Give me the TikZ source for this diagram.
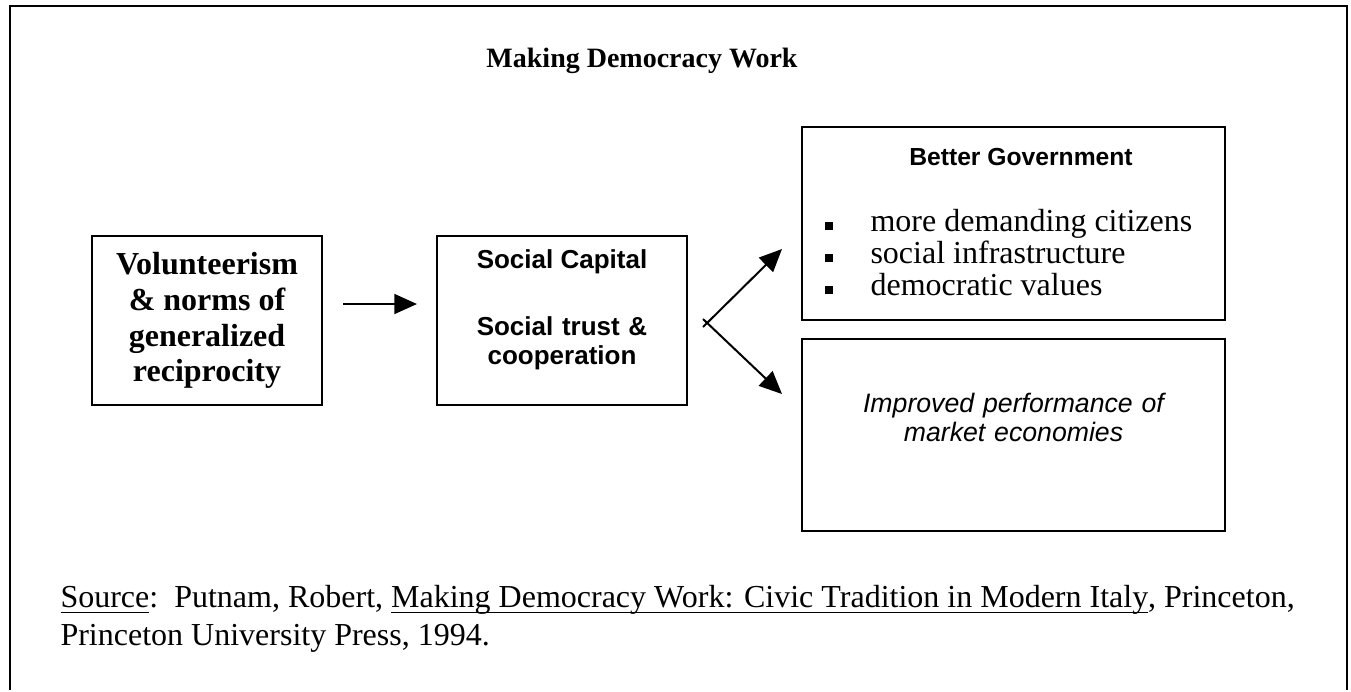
\documentclass[tikz,border=0pt]{standalone}
\usepackage{fontspec}
\setmainfont{Liberation Serif}
\setsansfont{Liberation Sans}
\usetikzlibrary{arrows.meta}

\newlength{\pxu}
\setlength{\pxu}{0.375pt}
\newcommand{\uln}[1]{\underline{\smash{#1}\rule[-0.8pt]{0pt}{0pt}}}

\tikzset{
  box/.style={draw=black, line width=0.8pt, rectangle, inner sep=0pt},
  flow/.style={black, line width=0.75pt, -{Triangle[length=8.5pt,width=7.5pt]}},
  sqbullet/.style={fill=black, rectangle, inner sep=0pt, minimum size=8\pxu},
  titlefont/.style={font={\fontsize{10.5}{12}\selectfont\bfseries}},
  bodyfont/.style={font={\fontsize{12}{13.9}\selectfont}},
  volfont/.style={font={\fontsize{12}{13.4}\selectfont\bfseries}},
  headfont/.style={font={\fontsize{9.75}{10.9}\selectfont\sffamily\bfseries}},
  perffont/.style={font={\fontsize{10}{11}\selectfont\sffamily\itshape}}
}

\begin{document}
\begin{tikzpicture}[x=0.375pt, y=-0.375pt, inner sep=0pt]

\fill[white] (0,0) rectangle (1351,685);
\draw[black, line width=0.75pt] (10,690) -- (10,6) -- (1347,6) -- (1347,690);

 \node (title) at (642,67) [titlefont, anchor=base] {Making Democracy Work};

\node (vol) at (207,320.5) [box, volfont, align=center, minimum width=230\pxu, minimum height=169\pxu]
   {Volunteerism\\\& norms of\\generalized\\reciprocity};

\node (soc) at (562,320.5) [box, minimum width=250\pxu, minimum height=169\pxu] {};
 \node (capital) at (562,268) [headfont, anchor=base] {Social Capital};
 \node (trust) at (562,335) [headfont, anchor=base, align=center, text width=240\pxu] {Social trust \&\\cooperation};

\node (gov) at (1013.5,223.5) [box, minimum width=423\pxu, minimum height=193\pxu] {};
 \node (govhead) at (1021,165) [headfont, font={\fontsize{9.25}{10.9}\selectfont\sffamily\bfseries}, anchor=base] {Better Government};

   \node (b1) at (828.5,226) [sqbullet] {};
   \node (b2) at (828.5,258) [sqbullet] {};
   \node (b3) at (828.5,290) [sqbullet] {};
 \node (citizens) at (870,231) [bodyfont, anchor=base west] {more demanding citizens};
 \node (infra) at (870,263) [bodyfont, anchor=base west] {social infrastructure};
 \node (values) at (870,295) [bodyfont, anchor=base west] {democratic values};

\node (market) at (1013.5,435) [box, minimum width=423\pxu, minimum height=192\pxu] {};
 \node (perf) at (1013.5,412) [perffont, anchor=base, align=center, text width=400\pxu]
   {Improved performance of\\market economies};

\draw[flow, shorten <=20\pxu, shorten >=19\pxu] ([yshift=16.5\pxu]vol.east) -- ([yshift=16.5\pxu]soc.west);

\coordinate (upfrom) at (703,327);
\coordinate (upto) at (782,249);
\coordinate (downfrom) at (703,319);
\coordinate (downto) at (782,394);

\draw[flow] (upfrom) -- (upto);
\draw[flow] (downfrom) -- (downto);

 \node (source) at (60,607) [bodyfont, anchor=base west]
   {\uln{Source}:\ \ Putnam, Robert, \uln{Making Democracy Work: Civic Tradition in Modern Italy}, Princeton,};
 \node (press) at (60,645) [bodyfont, anchor=base west] {Princeton University Press, 1994.};

\end{tikzpicture}
\end{document}
